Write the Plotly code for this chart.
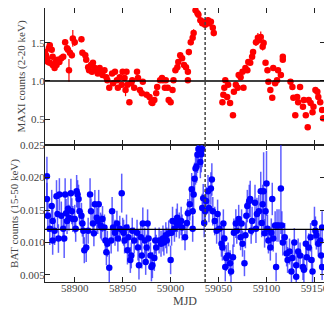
import plotly.graph_objects as go
from plotly.subplots import make_subplots

# ---------------- MAXI (2-20 keV) ----------------
maxi_mjd = [
    58869, 58870, 58871, 58872, 58873, 58874, 58874, 58876, 58877, 58877,
    58879, 58880, 58881, 58882, 58884, 58886, 58888, 58890, 58892, 58893,
    58894, 58895, 58897, 58898, 58900, 58907, 58908, 58911, 58912, 58914,
    58915, 58917, 58918, 58919, 58921, 58923, 58924, 58926, 58928, 58929,
    58931, 58933, 58934, 58936, 58939, 58940, 58942, 58944, 58945, 58947,
    58949, 58950, 58952, 58953, 58954, 58955, 58957, 58959, 58960, 58962,
    58965, 58966, 58968, 58970, 58971, 58975, 58978, 58980, 58981, 58983,
    58985, 58986, 58989, 58991, 58992, 58994, 58995, 58997, 58998, 59000,
    59002, 59003, 59005, 59007, 59008, 59010, 59012, 59014, 59016, 59018,
    59018, 59019, 59021, 59023, 59024, 59026, 59028, 59029, 59031, 59033,
    59034, 59036, 59039, 59040, 59042, 59044, 59045, 59054, 59055, 59056,
    59057, 59059, 59060, 59062, 59065, 59066, 59068, 59070, 59071, 59073,
    59075, 59076, 59078, 59080, 59081, 59083, 59085, 59086, 59089, 59091,
    59092, 59094, 59096, 59097, 59099, 59101, 59102, 59104, 59106, 59107,
    59109, 59111, 59112, 59115, 59117, 59117, 59125, 59127, 59128, 59130,
    59132, 59133, 59135, 59138, 59139, 59141, 59143, 59144, 59146, 59148,
    59149, 59151, 59153, 59154, 59156, 59158, 59159,
]
maxi_rate = [
    1.38, 1.34, 1.30, 1.25, 1.43, 1.47, 1.24, 1.41, 1.32, 1.21,
    1.17, 1.25, 1.21, 1.28, 1.25, 1.30, 1.32, 1.51, 1.43, 1.41,
    1.14, 1.37, 1.34, 1.56, 1.51, 1.55, 1.37, 1.34, 1.28, 1.18,
    1.14, 1.21, 1.12, 1.24, 1.17, 1.14, 1.10, 1.17, 1.12, 1.08,
    1.14, 1.05, 1.01, 0.91, 1.10, 0.97, 1.12, 1.01, 0.91, 1.05,
    0.95, 1.12, 1.04, 0.88, 1.12, 0.95, 0.72, 0.97, 1.01, 0.91,
    1.12, 1.04, 0.88, 0.84, 0.99, 0.82, 0.79, 0.72, 0.71, 0.75,
    0.84, 0.92, 1.01, 1.04, 1.01, 0.91, 1.01, 0.91, 0.75, 0.72,
    0.88, 1.01, 1.14, 1.18, 1.25, 1.34, 1.30, 1.21, 1.18, 1.12,
    1.01, 1.38, 1.51, 1.57, 1.63, 1.93, 1.89, 1.87, 1.80, 1.76,
    1.78, 1.74, 1.80, 1.76, 1.78, 1.70, 1.63, 0.72, 0.82, 0.91,
    1.01, 0.79, 0.95, 0.71, 0.55, 0.86, 0.95, 0.91, 1.08, 1.05,
    1.12, 0.91, 1.17, 1.14, 1.25, 1.24, 1.32, 1.38, 1.51, 1.57,
    1.54, 1.58, 1.45, 1.50, 1.24, 1.14, 0.99, 0.88, 0.78, 1.17,
    0.97, 1.01, 1.14, 1.08, 1.32, 1.28, 0.99, 0.92, 0.78, 0.55,
    0.79, 0.72, 0.92, 0.66, 0.75, 0.55, 0.39, 0.75, 0.71, 0.59,
    0.66, 0.88, 0.86, 0.79, 0.72, 0.62, 0.51,
]
maxi_err = [
    0.04, 0.04, 0.03, 0.03, 0.04, 0.04, 0.03, 0.04, 0.03, 0.03,
    0.03, 0.03, 0.03, 0.03, 0.03, 0.03, 0.03, 0.04, 0.04, 0.04,
    0.15, 0.04, 0.04, 0.11, 0.05, 0.04, 0.04, 0.03, 0.03, 0.03,
    0.03, 0.03, 0.03, 0.03, 0.03, 0.03, 0.03, 0.03, 0.03, 0.03,
    0.03, 0.03, 0.03, 0.03, 0.03, 0.03, 0.03, 0.03, 0.03, 0.03,
    0.03, 0.03, 0.03, 0.08, 0.03, 0.03, 0.03, 0.03, 0.03, 0.03,
    0.03, 0.03, 0.03, 0.03, 0.03, 0.03, 0.03, 0.03, 0.03, 0.03,
    0.03, 0.03, 0.03, 0.03, 0.03, 0.03, 0.03, 0.03, 0.03, 0.03,
    0.03, 0.03, 0.03, 0.03, 0.03, 0.03, 0.03, 0.03, 0.03, 0.03,
    0.03, 0.04, 0.04, 0.04, 0.05, 0.04, 0.04, 0.04, 0.04, 0.04,
    0.04, 0.04, 0.04, 0.04, 0.04, 0.04, 0.04, 0.03, 0.03, 0.03,
    0.03, 0.03, 0.03, 0.03, 0.03, 0.03, 0.03, 0.03, 0.03, 0.03,
    0.03, 0.03, 0.03, 0.03, 0.03, 0.03, 0.03, 0.04, 0.05, 0.06,
    0.05, 0.07, 0.05, 0.05, 0.03, 0.03, 0.03, 0.03, 0.03, 0.03,
    0.03, 0.03, 0.03, 0.03, 0.03, 0.03, 0.03, 0.03, 0.03, 0.03,
    0.03, 0.03, 0.03, 0.03, 0.03, 0.03, 0.03, 0.03, 0.03, 0.03,
    0.03, 0.03, 0.03, 0.03, 0.03, 0.03, 0.03,
]

# ---------------- Swift/BAT (15-50 keV) ----------------
bat_mjd = [
    58871, 58871, 58872, 58874, 58876, 58877, 58877, 58879, 58881, 58882,
    58883, 58884, 58886, 58888, 58889, 58890, 58891, 58892, 58893, 58894,
    58896, 58897, 58898, 58900, 58901, 58902, 58903, 58904, 58905, 58907,
    58908, 58909, 58910, 58912, 58914, 58916, 58917, 58919, 58920, 58921,
    58923, 58924, 58925, 58927, 58928, 58929, 58931, 58932, 58933, 58934,
    58936, 58938, 58939, 58940, 58942, 58944, 58945, 58947, 58949, 58950,
    58951, 58952, 58954, 58955, 58956, 58958, 58959, 58960, 58962, 58965,
    58966, 58967, 58969, 58970, 58971, 58973, 58974, 58975, 58976, 58977,
    58979, 58980, 58981, 58983, 58984, 58985, 58988, 58990, 58992, 58993,
    58995, 58996, 58998, 59000, 59001, 59002, 59004, 59006, 59007, 59009,
    59011, 59012, 59015, 59017, 59018, 59020, 59022, 59023, 59023, 59024,
    59025, 59026, 59027, 59028, 59029, 59031, 59032, 59033, 59033, 59034,
    59035, 59036, 59037, 59039, 59040, 59042, 59043, 59044, 59046, 59048,
    59049, 59051, 59053, 59054, 59055, 59056, 59057, 59058, 59060, 59062,
    59063, 59065, 59066, 59068, 59069, 59071, 59073, 59074, 59075, 59077,
    59078, 59079, 59080, 59082, 59083, 59084, 59085, 59088, 59089, 59090,
    59092, 59094, 59095, 59096, 59097, 59098, 59099, 59100, 59101, 59102,
    59104, 59105, 59106, 59107, 59109, 59110, 59111, 59113, 59115, 59116,
    59117, 59119, 59121, 59122, 59124, 59126, 59127, 59129, 59131, 59131,
    59133, 59135, 59138, 59139, 59141, 59142, 59144, 59146, 59147, 59148,
    59150, 59151, 59152, 59154, 59156, 59157, 59158, 59158,
]
bat_rate = [
    0.0202, 0.0167, 0.0141, 0.0121, 0.0156, 0.0103, 0.0133, 0.0118, 0.0171, 0.0144,
    0.0106, 0.0174, 0.0141, 0.0121, 0.0106, 0.0174, 0.0145, 0.0133, 0.0152, 0.0138,
    0.0176, 0.0148, 0.0136, 0.0136, 0.0121, 0.0179, 0.0174, 0.0167, 0.0148, 0.0141,
    0.0129, 0.0118, 0.0088, 0.0092, 0.0118, 0.0174, 0.0148, 0.0129, 0.0114, 0.0159,
    0.0138, 0.0133, 0.0159, 0.0126, 0.0123, 0.0136, 0.0123, 0.0103, 0.0085, 0.0098,
    0.0061, 0.0103, 0.0148, 0.0123, 0.0115, 0.0129, 0.0106, 0.0121, 0.0176, 0.0118,
    0.0115, 0.0103, 0.0123, 0.0088, 0.0108, 0.0073, 0.0080, 0.0118, 0.0103, 0.0115,
    0.0092, 0.0065, 0.0108, 0.0080, 0.0129, 0.0103, 0.0070, 0.0092, 0.0129, 0.0106,
    0.0080, 0.0062, 0.0065, 0.0076, 0.0103, 0.0092, 0.0103, 0.0098, 0.0106, 0.0100,
    0.0111, 0.0103, 0.0114, 0.0073, 0.0115, 0.0133, 0.0121, 0.0130, 0.0138, 0.0126,
    0.0133, 0.0123, 0.0108, 0.0130, 0.0145, 0.0159, 0.0182, 0.0148, 0.0121, 0.0174,
    0.0198, 0.0214, 0.0217, 0.0235, 0.0244, 0.0224, 0.0236, 0.0244, 0.0153, 0.0168,
    0.0130, 0.0148, 0.0164, 0.0179, 0.0153, 0.0183, 0.0197, 0.0148, 0.0133, 0.0118,
    0.0144, 0.0121, 0.0098, 0.0092, 0.0129, 0.0106, 0.0062, 0.0076, 0.0080, 0.0068,
    0.0055, 0.0077, 0.0115, 0.0129, 0.0118, 0.0136, 0.0108, 0.0129, 0.0098, 0.0068,
    0.0111, 0.0141, 0.0156, 0.0164, 0.0167, 0.0118, 0.0133, 0.0161, 0.0121, 0.0144,
    0.0148, 0.0179, 0.0130, 0.0159, 0.0179, 0.0114, 0.0148, 0.0191, 0.0121, 0.0103,
    0.0092, 0.0115, 0.0167, 0.0106, 0.0126, 0.0062, 0.0126, 0.0126, 0.0183, 0.0126,
    0.0100, 0.0108, 0.0083, 0.0073, 0.0086, 0.0055, 0.0076, 0.0100, 0.0065, 0.0047,
    0.0086, 0.0080, 0.0062, 0.0058, 0.0098, 0.0077, 0.0092, 0.0108, 0.0073, 0.0055,
    0.0130, 0.0118, 0.0111, 0.0098, 0.0103, 0.0080, 0.0123, 0.0062,
]
bat_err = [
    0.0030, 0.0025, 0.0025, 0.0025, 0.0025, 0.0022, 0.0025, 0.0022, 0.0025, 0.0022,
    0.0022, 0.0025, 0.0022, 0.0020, 0.0030, 0.0025, 0.0022, 0.0020, 0.0022, 0.0020,
    0.0022, 0.0020, 0.0020, 0.0022, 0.0020, 0.0025, 0.0022, 0.0022, 0.0020, 0.0020,
    0.0020, 0.0020, 0.0020, 0.0022, 0.0020, 0.0025, 0.0020, 0.0020, 0.0020, 0.0022,
    0.0020, 0.0020, 0.0022, 0.0020, 0.0020, 0.0020, 0.0020, 0.0020, 0.0020, 0.0020,
    0.0025, 0.0020, 0.0022, 0.0020, 0.0020, 0.0020, 0.0020, 0.0020, 0.0030, 0.0020,
    0.0020, 0.0020, 0.0020, 0.0022, 0.0020, 0.0020, 0.0020, 0.0020, 0.0020, 0.0020,
    0.0020, 0.0022, 0.0020, 0.0020, 0.0025, 0.0020, 0.0020, 0.0020, 0.0022, 0.0020,
    0.0020, 0.0022, 0.0020, 0.0020, 0.0020, 0.0020, 0.0020, 0.0020, 0.0020, 0.0020,
    0.0020, 0.0020, 0.0020, 0.0022, 0.0020, 0.0022, 0.0020, 0.0022, 0.0022, 0.0020,
    0.0022, 0.0020, 0.0020, 0.0022, 0.0022, 0.0025, 0.0025, 0.0022, 0.0020, 0.0025,
    0.0025, 0.0025, 0.0025, 0.0028, 0.0028, 0.0025, 0.0028, 0.0028, 0.0022, 0.0022,
    0.0022, 0.0022, 0.0022, 0.0025, 0.0022, 0.0025, 0.0025, 0.0022, 0.0022, 0.0020,
    0.0022, 0.0020, 0.0020, 0.0020, 0.0022, 0.0020, 0.0022, 0.0020, 0.0020, 0.0020,
    0.0020, 0.0020, 0.0022, 0.0022, 0.0020, 0.0022, 0.0020, 0.0022, 0.0020, 0.0020,
    0.0020, 0.0022, 0.0025, 0.0025, 0.0028, 0.0020, 0.0022, 0.0028, 0.0022, 0.0025,
    0.0025, 0.0030, 0.0022, 0.0030, 0.0060, 0.0022, 0.0030, 0.0050, 0.0022, 0.0020,
    0.0020, 0.0022, 0.0025, 0.0020, 0.0022, 0.0022, 0.0025, 0.0025, 0.0070, 0.0022,
    0.0020, 0.0022, 0.0020, 0.0020, 0.0020, 0.0020, 0.0020, 0.0022, 0.0020, 0.0020,
    0.0020, 0.0020, 0.0020, 0.0020, 0.0022, 0.0020, 0.0022, 0.0022, 0.0020, 0.0020,
    0.0025, 0.0022, 0.0022, 0.0020, 0.0022, 0.0020, 0.0025, 0.0020,
]

# reference levels and marker epoch
maxi_ref_level = 1.0
bat_ref_level = 0.012
event_mjd = 59036

x_range = [58869, 59161]
x_ticks = [58900, 58950, 59000, 59050, 59100, 59150]
maxi_range = [0.158, 1.96]
maxi_ticks = [0.5, 1.0, 1.5]
bat_range = [0.0039, 0.02502]
bat_ticks = [0.005, 0.010, 0.015, 0.020, 0.025]

FONT = "Liberation Serif"
TXT = "#444444"
FRAME = "#222222"

fig = make_subplots(rows=2, cols=1, shared_xaxes=True, vertical_spacing=0)

fig.add_trace(go.Scatter(
    x=maxi_mjd, y=maxi_rate, mode="markers",
    marker=dict(color="red", size=6.5),
    error_y=dict(type="data", array=maxi_err, color="red", thickness=1.2, width=0),
    showlegend=False), row=1, col=1)

fig.add_trace(go.Scatter(
    x=bat_mjd, y=bat_rate, mode="markers",
    marker=dict(color="blue", size=6.5),
    error_y=dict(type="data", array=bat_err, color="rgba(40,40,255,0.75)", thickness=1.5, width=0),
    showlegend=False), row=2, col=1)

# horizontal reference lines
fig.add_hline(y=maxi_ref_level, line=dict(color="black", width=1.3), row=1, col=1)
fig.add_hline(y=bat_ref_level, line=dict(color="black", width=1.3), row=2, col=1)
# dashed vertical event line across both panels
for r in (1, 2):
    fig.add_vline(x=event_mjd, line=dict(color="#444444", width=1.5, dash="3px,2px"), row=r, col=1)

axis_common = dict(showline=True, linecolor=FRAME, linewidth=1, mirror="ticks",
                   ticks="inside", ticklen=5, tickcolor=FRAME, showgrid=False,
                   zeroline=False, automargin=False,
                   tickfont=dict(family=FONT, size=11, color=TXT))

fig.update_xaxes(range=x_range, tickvals=x_ticks, tickformat="d", **axis_common)
fig.update_xaxes(showticklabels=False, row=1, col=1)
fig.update_xaxes(ticklabelstandoff=-4,
                 title=dict(text="MJD", font=dict(family=FONT, size=12, color=TXT), standoff=3),
                 row=2, col=1)
fig.update_yaxes(range=maxi_range, tickvals=maxi_ticks, tickformat=".1f", ticklabelstandoff=-3,
                 domain=[0.5, 1.0],
                 title=dict(text="MAXI counts (2-20 keV)", font=dict(family=FONT, size=11, color=TXT), standoff=3),
                 row=1, col=1, **axis_common)
fig.update_yaxes(range=bat_range, tickvals=bat_ticks, tickformat=".3f", ticklabelstandoff=-3,
                 domain=[0.0, 0.5],
                 title=dict(text="BAT counts (15-50 keV)", font=dict(family=FONT, size=11, color=TXT), standoff=3),
                 row=2, col=1, **axis_common)

# page body adds an 8px offset, so the figure is sized to fit the 332x314 window
fig.update_layout(width=324, height=306,
                  margin=dict(l=37, r=7, t=0, b=32),
                  paper_bgcolor="white", plot_bgcolor="white",
                  font=dict(family=FONT, color=TXT))

fig.write_html("out.html")
